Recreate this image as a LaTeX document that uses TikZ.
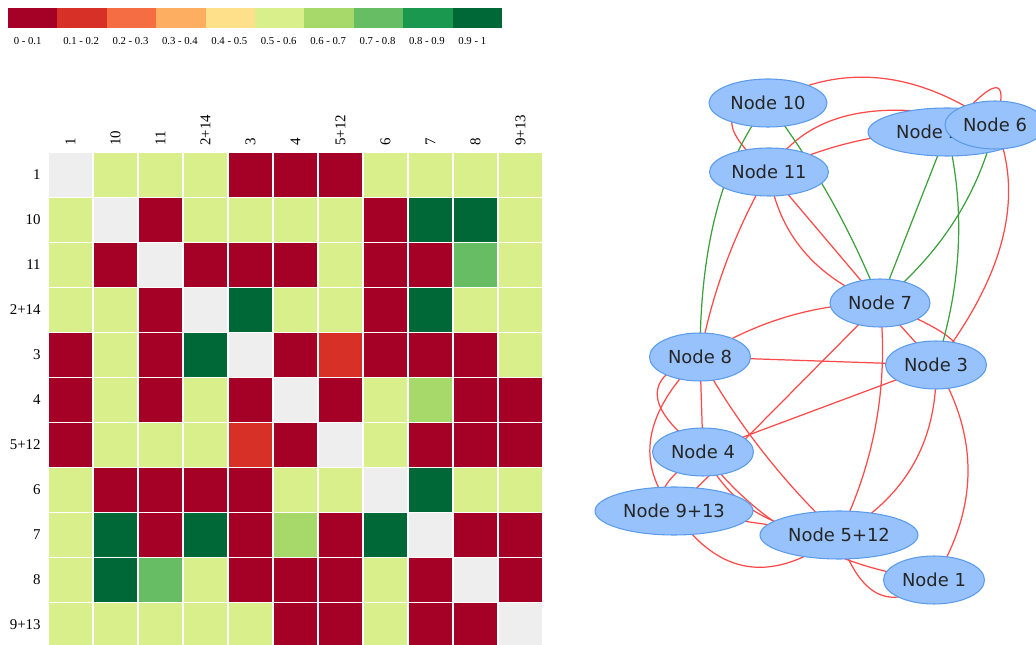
\documentclass[tikz,border=0pt]{standalone}
\usepackage{fontspec}
\setmainfont{Liberation Serif}
\newfontfamily\graphfont{DejaVu Sans}
\usepackage{tikz}
\usetikzlibrary{shapes,calc,backgrounds}
% colour bins 0 - 0.1 ... 0.9 - 1
\definecolor{hm0}{HTML}{A50026}
\definecolor{hm1}{HTML}{D73027}
\definecolor{hm2}{HTML}{F46D43}
\definecolor{hm3}{HTML}{FDAE61}
\definecolor{hm4}{HTML}{FEE08B}
\definecolor{hm5}{HTML}{D9EF8B}
\definecolor{hm6}{HTML}{A6D96A}
\definecolor{hm7}{HTML}{66BD63}
\definecolor{hm8}{HTML}{1A9850}
\definecolor{hm9}{HTML}{006837}
\definecolor{hmd}{HTML}{EEEEEE}
\definecolor{nodefill}{HTML}{97C2FC}
\definecolor{nodeborder}{HTML}{5A9BEC}
\definecolor{linkred}{HTML}{FF4848}
\definecolor{linkgreen}{HTML}{3CA03C}

\begin{document}
\begin{tikzpicture}[x=0.02cm, y=-0.02cm,
    legendlabel/.style={anchor=base west, inner sep=0pt, font=\fontsize{6.1}{7}\selectfont},
    collabel/.style={rotate=90, anchor=west, inner sep=0pt, font=\fontsize{8.5}{10}\selectfont},
    rowlabel/.style={anchor=east, inner sep=0pt, font=\fontsize{8.5}{10}\selectfont},
    gnode/.style={ellipse, draw=nodeborder, fill=nodefill, line width=0.6pt, inner sep=0pt,
      minimum height=0.96cm, text=black!85, font=\graphfont\fontsize{10.2}{12}\selectfont},
    redlink/.style={draw=linkred, line width=0.7pt},
    greenlink/.style={draw=linkgreen, line width=0.7pt}]
  \useasboundingbox (0,0) rectangle (1036,645);

  % Legend bar with its ranges
  \foreach \lo/\hi [count=\k from 0] in {0/0.1, 0.1/0.2, 0.2/0.3, 0.3/0.4, 0.4/0.5, 0.5/0.6, 0.6/0.7, 0.7/0.8, 0.8/0.9, 0.9/1} {
      \fill[fill=hm\k] (8+49.4*\k, 8.3) rectangle ++(49.4,20);
      \node[legendlabel] (leg\k) at (13.5+49.4*\k, 44.5) {\lo{} - \hi};
    }

  % Heatmap cells, one row per list
  \foreach \vals [count=\row from 0] in {
      {d,5,5,5,0,0,0,5,5,5,5},
      {5,d,0,5,5,5,5,0,9,9,5},
      {5,0,d,0,0,0,5,0,0,7,5},
      {5,5,0,d,9,5,5,0,9,5,5},
      {0,5,0,9,d,0,1,0,0,0,5},
      {0,5,0,5,0,d,0,5,6,0,0},
      {0,5,5,5,1,0,d,5,0,0,0},
      {5,0,0,0,0,5,5,d,9,5,5},
      {5,9,0,9,0,6,0,9,d,0,0},
      {5,9,7,5,0,0,0,5,0,d,0},
      {5,5,5,5,5,0,0,5,0,0,d}} {
      \foreach \v [count=\col from 0] in \vals
        \filldraw[fill=hm\v, draw=white, line width=0.6pt] (48+45*\col, 152.5+45*\row) rectangle ++(45,45);
    }

  % Row and column names
  \foreach \lab [count=\k from 0] in {1,10,11,2+14,3,4,5+12,6,7,8,9+13} {
      \node[collabel] (col\k) at (70.5+45*\k, 146) {\lab};
      \node[rowlabel] (row\k) at (41, 175+45*\k) {\lab};
    }

  % Graph nodes (later ones sit on top)
  \foreach \id/\pos/\txt/\nodew in {n10/{768,103}/Node 10/2.36, n11/{769,172}/Node 11/2.38,
      n214/{947,132}/Node 2+14/3.16, n6/{995,125}/Node 6/2.0, n7/{880,303}/Node 7/2.0,
      n8/{700,357}/Node 8/2.02, n3/{936,365}/Node 3/2.02, n4/{703,452}/Node 4/2.02,
      n913/{674,511}/Node 9+13/3.16, n512/{839,535}/Node 5+12/3.16, n1/{934,580}/Node 1/2.02} {
      \node[gnode, minimum width=\nodew cm] (\id) at (\pos) {\txt};
    }

  \begin{pgfonlayer}{background}
    % straight links
    \foreach \src/\dst in {n11/n7, n8/n3, n8/n4, n7/n913, n7/n3, n3/n4, n913/n512}
      \draw[redlink] (\src.center) -- (\dst.center);
    \draw[greenlink] (n214.center) -- (n7.center);
    % curved links, one bend point each (quadratic curve)
    \foreach \src/\dst/\ctl in {n10/n11/{695,108}, n10/n6/{877,42}, n214/n6/{1019,47},
        n11/n214/{857,130}, n11/n6/{825,80}, n11/n7/{783,265}, n11/n8/{718,260},
        n8/n4/{613,385}, n8/n913/{615,440}, n8/n512/{755,456}, n7/n8/{782,304},
        n7/n512/{893,425}, n7/n3/{1000,350}, n6/n3/{1040,230}, n3/n512/{939,479},
        n3/n1/{1001,472}, n4/n913/{640,495}, n4/n512/{740,530}, n4/n1/{785,562},
        n913/n512/{740,610}, n512/n1/{870,630}}
      \draw[redlink] (\src.center) .. controls ($(\src.center)!2/3!(\ctl)$) and ($(\dst.center)!2/3!(\ctl)$) .. (\dst.center);
    \foreach \src/\dst/\ctl in {n10/n7/{838,196}, n10/n8/{700,189}, n214/n3/{975,245}, n6/n7/{970,230}}
      \draw[greenlink] (\src.center) .. controls ($(\src.center)!2/3!(\ctl)$) and ($(\dst.center)!2/3!(\ctl)$) .. (\dst.center);
  \end{pgfonlayer}
\end{tikzpicture}
\end{document}
